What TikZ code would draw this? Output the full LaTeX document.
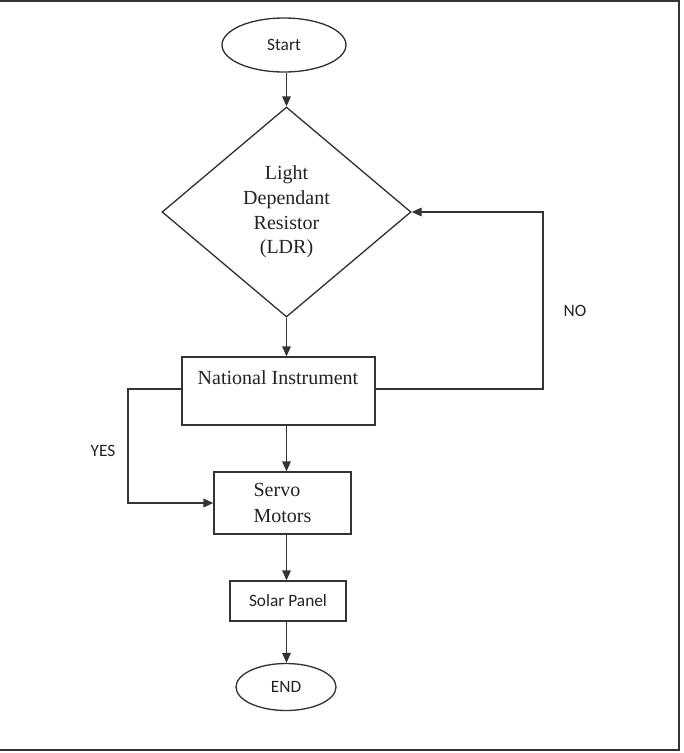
\documentclass[tikz,border=0pt]{standalone}
\usepackage{fontspec}
\setmainfont{Liberation Serif}
\newfontfamily\calib{Carlito}
\usetikzlibrary{shapes.geometric,arrows.meta}
\definecolor{ln}{HTML}{333333}
\definecolor{tx}{HTML}{222222}
\tikzset{
  base/.style={draw=ln, line width=1pt, inner sep=0pt, text=tx},
  boxnode/.style={base, rectangle},
  ovalnode/.style={base, ellipse, font=\calib\fontsize{13}{15}\selectfont},
  decnode/.style={base, diamond, align=center, font=\fontsize{15}{18.5}\selectfont},
  lbl/.style={text=tx, font=\calib\fontsize{13}{15}\selectfont, inner sep=0pt},
  arr/.style={draw=ln, line width=1pt, -{Triangle[length=7.5pt,width=6.5pt]}},
  plain/.style={draw=ln, line width=1pt},
}
\begin{document}
\begin{tikzpicture}[x=0.75pt,y=-0.75pt]
\useasboundingbox (0,0) rectangle (683,753);
\draw[draw=ln, line width=1.6pt] (-2,1) -- (679,1) -- (679,750) -- (-2,750);

\node[ovalnode, minimum width=124*0.75pt, minimum height=54*0.75pt] (start) at (284,45) {Start};
\node[decnode, minimum width=249*0.75pt, minimum height=210*0.75pt] (ldr) at (286.5,212) {Light\\Dependant\\Resistor\\(LDR)};
\node[boxnode, minimum width=193*0.75pt, minimum height=68*0.75pt] (ni) at (278.5,391) {};
\node[text=tx, inner sep=0pt, font=\fontsize{15}{18}\selectfont] (nitext) at (278,378) {National Instrument};
\node[boxnode, minimum width=137*0.75pt, minimum height=62*0.75pt, align=left, font=\fontsize{15}{19}\selectfont] (servo) at (282.5,503) {Servo\\Motors};
\node[boxnode, minimum width=116*0.75pt, minimum height=40*0.75pt, font=\calib\fontsize{13}{15}\selectfont] (solar) at (288,601) {Solar Panel};
\node[ovalnode, minimum width=100*0.75pt, minimum height=47*0.75pt] (endn) at (286,687) {END};

\node[lbl] (no) at (575,311) {NO};
\node[lbl] (yes) at (103,451) {YES};

\draw[arr] (start.south -| ldr.north) -- (ldr.north);
\draw[arr] (ldr.south) -- (ldr.south |- ni.north);
\draw[arr] (ldr.south |- ni.south) -- (ldr.south |- servo.north);
\draw[arr] (ldr.south |- servo.south) -- (ldr.south |- solar.north);
\draw[arr] (ldr.south |- solar.south) -- (ldr.south |- endn.north);

\coordinate (nocorner) at (543,389);
\draw[arr] (ni.east |- nocorner) -- (nocorner) |- (ldr.east);
\coordinate (yescorner) at (128,389);
\draw[arr] (ni.west |- yescorner) -- (yescorner) |- (servo.west);
\end{tikzpicture}
\end{document}
